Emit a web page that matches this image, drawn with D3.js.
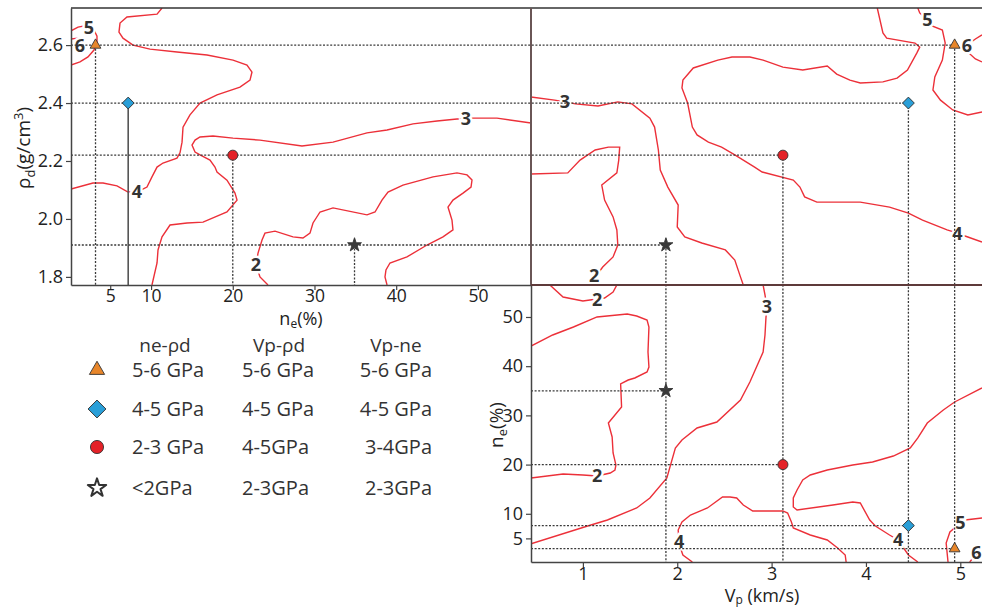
<!DOCTYPE html>
<html>
<head>
<meta charset="utf-8">
<script src="https://cdnjs.cloudflare.com/ajax/libs/d3/7.8.5/d3.min.js"></script>
<style>
  body { margin: 0; background: #fff; }
  svg { display: block; font-family: 'Open Sans', sans-serif; }
</style>
</head>
<body>
<svg id="chart" width="982" height="607"></svg>
<script>
// ---- ticks
const neTicks = [5, 10, 20, 30, 40, 50];
const rhoTicks = [1.8, 2.0, 2.2, 2.4, 2.6];
const vpTicks = [1, 2, 3, 4, 5];

// ---- sample points, one per pressure class (triangle, diamond, circle, star)
const markerKinds = ['triangle', 'diamond', 'circle', 'star'];
const neRhoPoints = [[3.2, 2.6], [7.2, 2.4], [20, 2.22], [34.9, 1.91]];
const vpRhoPoints = [[4.94, 2.6], [4.45, 2.4], [3.12, 2.22], [1.88, 1.91]];
const vpNePoints = [[4.94, 2.9], [4.45, 7.6], [3.12, 20], [1.88, 35]];

// ---- legend
const legendHeads = ['ne-ρd', 'Vp-ρd', 'Vp-ne'];
const legendNeRho = ['5-6 GPa', '4-5 GPa', '2-3 GPa', '<2GPa'];
const legendVpRho = ['5-6 GPa', '4-5 GPa', '4-5GPa', '2-3GPa'];
const legendVpNe = ['5-6 GPa', '4-5 GPa', '3-4GPa', '2-3GPa'];

// ---- contours (GPa) ne(%) vs rho_d
const nrC6 = [[0.2, 2.621], [1.06, 2.624]];
const nrC5 = [[0.2, 2.649], [1.06, 2.662], [2.4, 2.669], [3.01, 2.652], [3.38, 2.631], [3.38, 2.610], [3.01, 2.583], [2.28, 2.559], [1.30, 2.542], [0.2, 2.531]];
const nrC4 = [[11.34, 2.728], [10.73, 2.707], [7.05, 2.697], [6.20, 2.676], [6.07, 2.645], [6.56, 2.624], [7.79, 2.600], [9.87, 2.586], [13.17, 2.576], [16.85, 2.566], [20.03, 2.548], [21.74, 2.531], [22.35, 2.507], [22.11, 2.479], [20.88, 2.455], [18.07, 2.428], [15.99, 2.400], [14.76, 2.359], [13.91, 2.317], [13.79, 2.265], [13.54, 2.228], [13.17, 2.210], [11.46, 2.193], [10.73, 2.179], [10.11, 2.145], [9.50, 2.110], [8.28, 2.093], [7.18, 2.093], [5.83, 2.114], [4.12, 2.124], [2.89, 2.124], [0.2, 2.103]];
const nrC3 = [[10.11, 1.772], [10.73, 1.848], [10.85, 1.893], [11.34, 1.938], [12.32, 1.979], [14.40, 1.986], [16.36, 1.989], [19.29, 2.024], [20.52, 2.065], [20.27, 2.089], [20.03, 2.100], [19.29, 2.134], [18.07, 2.162], [17.82, 2.179], [17.21, 2.203], [15.99, 2.221], [15.38, 2.231], [15.01, 2.255], [15.38, 2.272], [15.99, 2.283], [17.58, 2.286], [20.03, 2.279], [23.33, 2.272], [28.47, 2.252], [32.27, 2.265], [36.43, 2.297], [38.88, 2.307], [42.06, 2.328], [45.0, 2.338], [47.44, 2.345], [48.54, 2.345], [49.40, 2.348], [52.34, 2.348], [56.5, 2.331]];
const nrC2 = [[24.31, 1.772], [23.33, 1.800], [22.84, 1.841], [23.09, 1.882], [23.58, 1.927], [23.94, 1.951], [25.17, 1.958], [27.37, 1.938], [28.59, 1.934], [29.45, 1.951], [29.82, 1.986], [30.68, 2.024], [32.27, 2.038], [36.43, 2.014], [37.41, 2.024], [38.26, 2.065], [39.00, 2.093], [40.83, 2.117], [44.51, 2.145], [47.44, 2.159], [48.67, 2.152], [49.28, 2.134], [49.16, 2.110], [48.18, 2.089], [46.95, 2.065], [46.34, 2.041], [46.83, 1.996], [46.95, 1.962], [45.73, 1.938], [43.77, 1.910], [41.32, 1.869], [39.24, 1.848], [38.75, 1.824], [38.63, 1.800], [38.88, 1.772]];

// ---- contours Vp(km/s) vs rho_d
const vrC2 = [[0.45, 2.155], [0.84, 2.159], [0.97, 2.203], [1.13, 2.238], [1.27, 2.248], [1.39, 2.248], [1.38, 2.203], [1.36, 2.159], [1.20, 2.117], [1.23, 2.065], [1.32, 2.007], [1.36, 1.962], [1.37, 1.910], [1.32, 1.869], [1.21, 1.834], [1.14, 1.803], [1.16, 1.772]];
const vrC3 = [[0.45, 2.421], [0.70, 2.410], [0.81, 2.404], [0.92, 2.397], [1.16, 2.390], [1.37, 2.404], [1.52, 2.397], [1.71, 2.348], [1.76, 2.317], [1.80, 2.238], [1.82, 2.169], [1.90, 2.110], [2.01, 2.048], [2.00, 1.972], [2.08, 1.938], [2.26, 1.917], [2.51, 1.893], [2.61, 1.858], [2.67, 1.800], [2.70, 1.772]];
const vrC4 = [[4.12, 2.728], [4.18, 2.642], [4.22, 2.624], [4.52, 2.607], [4.57, 2.593], [4.54, 2.573], [4.44, 2.514], [4.33, 2.486], [4.18, 2.473], [3.94, 2.469], [3.83, 2.479], [3.69, 2.500], [3.59, 2.528], [3.33, 2.514], [3.12, 2.524], [2.91, 2.548], [2.77, 2.559], [2.58, 2.559], [2.43, 2.548], [2.17, 2.521], [2.06, 2.479], [2.05, 2.452], [2.11, 2.400], [2.16, 2.317], [2.21, 2.290], [2.33, 2.265], [2.47, 2.248], [2.61, 2.221], [2.82, 2.179], [2.90, 2.162], [3.23, 2.134], [3.30, 2.110], [3.35, 2.076], [3.48, 2.058], [3.94, 2.058], [4.25, 2.041], [4.45, 2.020], [4.60, 1.996], [4.86, 1.962], [4.97, 1.951], [5.05, 1.941], [5.23, 1.920]];
const vrC5 = [[4.55, 2.728], [4.57, 2.711], [4.65, 2.687], [4.70, 2.666], [4.81, 2.652], [4.84, 2.607], [4.81, 2.548], [4.73, 2.490], [4.71, 2.445], [4.79, 2.410], [4.92, 2.376], [5.08, 2.359], [5.23, 2.369]];
const vrC6 = [[5.23, 2.635], [5.16, 2.621], [5.07, 2.600], [5.09, 2.573], [5.16, 2.552], [5.23, 2.542]];

// ---- contours Vp(km/s) vs ne(%)
const vnC2a = [[0.65, 56.5], [0.79, 54.06], [1.00, 53.25], [1.15, 53.65], [1.23, 53.86], [1.32, 55.08], [1.36, 56.5]];
const vnC2b = [[0.45, 44.10], [0.68, 46.34], [0.90, 47.96], [1.15, 50.0], [1.47, 50.61], [1.57, 50.20], [1.68, 49.39], [1.70, 47.96], [1.69, 42.88], [1.70, 39.83], [1.68, 38.82], [1.55, 37.60], [1.48, 37.19], [1.40, 36.38], [1.41, 31.70], [1.27, 28.45], [1.31, 25.61], [1.32, 22.35], [1.35, 19.92], [1.34, 18.9], [1.29, 18.29], [1.15, 17.68], [1.00, 17.88], [0.79, 18.09], [0.45, 17.27]];
const vnC3 = [[2.91, 56.5], [2.93, 54.47], [2.95, 52.03], [2.94, 49.79], [2.93, 46.34], [2.91, 42.88], [2.77, 36.79], [2.67, 33.13], [2.42, 28.65], [2.21, 27.44], [2.05, 25.0], [1.98, 23.37], [1.89, 17.27], [1.71, 13.21], [1.57, 11.18], [1.26, 8.74], [1.05, 7.52], [0.45, 3.9]];
const vnC4a = [[2.16, 0.2], [2.06, 1.62], [2.03, 3.25], [2.02, 4.27], [2.01, 6.70], [2.05, 8.33], [2.14, 9.75], [2.32, 11.18], [2.48, 13.41], [2.56, 13.41], [2.63, 13.21], [2.70, 11.79], [2.80, 10.57], [3.12, 10.57], [3.17, 10.16], [3.21, 8.33], [3.23, 7.11], [3.41, 5.69], [3.59, 4.67], [3.70, 3.05], [3.78, 1.62], [3.79, 0.2]];
const vnC4b = [[4.55, 0.2], [4.45, 1.62], [4.34, 4.67], [4.25, 5.69], [4.10, 7.52], [4.04, 8.74], [3.94, 12.19], [3.86, 12.40], [3.65, 11.79], [3.27, 10.77], [3.23, 11.38], [3.23, 13.21], [3.27, 14.83], [3.33, 16.87], [3.41, 17.88], [3.59, 18.9], [3.86, 19.92], [4.07, 20.52], [4.29, 21.74], [4.47, 23.37], [4.55, 25.41], [4.65, 28.45], [4.82, 31.09], [4.94, 32.72], [5.23, 35.57]];
const vnC5 = [[5.23, 9.14], [5.05, 8.74], [5.00, 8.13], [4.89, 6.30], [4.85, 4.06], [4.87, 0.2]];
const vnC6 = [[5.10, 0.2], [5.16, 1.62], [5.20, 2.03]];

// level + label position for each contour
const nrContours = [
    { level: 6, at: [1.30, 2.600], pts: nrC6 },
    { level: 5, at: [2.40, 2.662], pts: nrC5 },
    { level: 4, at: [8.28, 2.093], pts: nrC4 },
    { level: 3, at: [48.54, 2.345], pts: nrC3 },
    { level: 2, at: [22.84, 1.841], pts: nrC2 }
];
const vrContours = [
    { level: 2, at: [1.12, 1.803], pts: vrC2 },
    { level: 3, at: [0.81, 2.404], pts: vrC3 },
    { level: 4, at: [4.97, 1.951], pts: vrC4 },
    { level: 5, at: [4.65, 2.687], pts: vrC5 },
    { level: 6, at: [5.07, 2.600], pts: vrC6 }
];
const vnContours = [
    { level: 2, at: [1.15, 53.65], pts: vnC2a },
    { level: 2, at: [1.15, 17.68], pts: vnC2b },
    { level: 3, at: [2.95, 52.03], pts: vnC3 },
    { level: 4, at: [2.02, 4.27], pts: vnC4a },
    { level: 4, at: [4.34, 4.67], pts: vnC4b },
    { level: 5, at: [5.00, 8.13], pts: vnC5 },
    { level: 6, at: [5.17, 2.03], pts: vnC6 }
];

const svg = d3.select('#chart');
const red = '#ec3039';
const ink = '#333';
const axisColor = '#444';

const xNe = d3.scaleLinear().domain([0.2, 56.5]).range([71, 531]);
const yRho = d3.scaleLinear().domain([1.772, 2.728]).range([285, 8]);
const xVp = d3.scaleLinear().domain([0.45, 5.23]).range([531, 982]);
const yNe = d3.scaleLinear().domain([0.2, 56.5]).range([562, 285]);

const panels = [
    { id: 'nr', x: xNe, y: yRho, contours: nrContours },
    { id: 'vr', x: xVp, y: yRho, contours: vrContours },
    { id: 'vn', x: xVp, y: yNe, contours: vnContours }
];

const defs = svg.append('defs');

// contour lines
panels.forEach(p => {
    const [x0, x1] = p.x.range();
    const [y0, y1] = p.y.range();
    defs.append('clipPath').attr('id', 'clip-' + p.id)
        .append('rect').attr('x', x0).attr('y', y1).attr('width', x1 - x0).attr('height', y0 - y1);
    const line = d3.line().x(d => p.x(d[0])).y(d => p.y(d[1]));
    svg.append('g').attr('clip-path', `url(#clip-${p.id})`)
        .selectAll('path').data(p.contours).join('path')
        .attr('d', d => line(d.pts))
        .attr('fill', 'none').attr('stroke', red).attr('stroke-width', 1.4);
});

// contour labels, white halo breaks the line like clabel
panels.forEach(p => {
    svg.append('g').selectAll('text').data(p.contours).join('text')
        .attr('x', d => p.x(d.at[0])).attr('y', d => p.y(d.at[1]))
        .attr('dy', '0.36em').attr('text-anchor', 'middle')
        .attr('font-size', 18).attr('font-weight', 700).attr('fill', ink)
        .attr('stroke', '#fff').attr('stroke-width', 5).attr('paint-order', 'stroke')
        .text(d => d.level);
});

// guide lines
const guides = svg.append('g').attr('fill', 'none');
const dotted = sel => sel.attr('stroke', '#3a3a3a').attr('stroke-width', 1.3).attr('stroke-dasharray', '2,1.6');

neRhoPoints.forEach((d, i) => {
    const vr = vpRhoPoints[i];
    const vn = vpNePoints[i];
    // horizontal through both rho panels
    guides.append('line').call(dotted)
        .attr('x1', xNe.range()[0]).attr('x2', xVp(vr[0]))
        .attr('y1', yRho(d[1])).attr('y2', yRho(d[1]));
    // vertical down to ne axis
    const v = guides.append('line')
        .attr('x1', xNe(d[0])).attr('x2', xNe(d[0]))
        .attr('y1', yRho(d[1])).attr('y2', yRho.range()[0]);
    if (markerKinds[i] === 'diamond') v.attr('stroke', '#555').attr('stroke-width', 1.6);
    else v.call(dotted);
    // vertical from Vp-rho point down to Vp axis
    guides.append('line').call(dotted)
        .attr('x1', xVp(vr[0])).attr('x2', xVp(vr[0]))
        .attr('y1', yRho(vr[1])).attr('y2', yNe.range()[0]);
    // horizontal in Vp-ne
    guides.append('line').call(dotted)
        .attr('x1', xVp.range()[0]).attr('x2', xVp(vn[0]))
        .attr('y1', yNe(vn[1])).attr('y2', yNe(vn[1]));
});

// markers
const markerStyle = {
    triangle: { type: d3.symbolTriangle, fill: '#e8862a', size: 50, legend: 100 },
    diamond: { type: d3.symbolSquare, fill: '#2a9fd8', size: 70, legend: 160, rot: 45 },
    circle: { type: d3.symbolCircle, fill: '#e42228', size: 80, legend: 135 },
    star: { type: d3.symbolStar, fill: '#3a3a3a', size: 60, legend: 105 }
};

function drawMarker(g, kind, x, y, big) {
    const m = markerStyle[kind];
    const path = d3.symbol(m.type, big ? m.legend : m.size)();
    g.append('path').attr('d', path)
        .attr('transform', `translate(${x},${y})` + (m.rot ? ` rotate(${m.rot})` : ''))
        .attr('fill', big && kind === 'star' ? '#fff' : m.fill)
        .attr('stroke', '#333').attr('stroke-width', big && kind === 'star' ? 2 : 0.9)
        .attr('stroke-linejoin', 'round');
}

const marks = svg.append('g');
markerKinds.forEach((k, i) => {
    drawMarker(marks, k, xNe(neRhoPoints[i][0]), yRho(neRhoPoints[i][1]));
    drawMarker(marks, k, xVp(vpRhoPoints[i][0]), yRho(vpRhoPoints[i][1]));
    drawMarker(marks, k, xVp(vpNePoints[i][0]), yNe(vpNePoints[i][1]));
});

// axes
function styleAxis(g, fs) {
    g.select('.domain').attr('stroke', axisColor).attr('stroke-width', 1.5);
    g.selectAll('.tick line').attr('stroke', axisColor).attr('stroke-width', 1.2);
    g.selectAll('.tick text').attr('font-size', fs).attr('fill', '#222')
        .attr('font-family', "'Open Sans', sans-serif");
}

svg.append('g').attr('transform', `translate(${xNe.range()[0]},0)`)
    .call(d3.axisLeft(yRho).tickValues(rhoTicks).tickFormat(d3.format('.1f')).tickSize(5).tickPadding(3).tickSizeOuter(0))
    .call(g => styleAxis(g, 18));
svg.append('g').attr('transform', `translate(0,${yRho.range()[0]})`)
    .call(d3.axisBottom(xNe).tickValues(neTicks).tickFormat(d3.format('d')).tickSize(5).tickPadding(0).tickSizeOuter(0))
    .call(g => styleAxis(g, 17.5));
svg.append('g').attr('transform', `translate(${xVp.range()[0]},0)`)
    .call(d3.axisLeft(yNe).tickValues(neTicks).tickFormat(d3.format('d')).tickSize(5).tickPadding(3).tickSizeOuter(0))
    .call(g => styleAxis(g, 18));
svg.append('g').attr('transform', `translate(0,${yNe.range()[0]})`)
    .call(d3.axisBottom(xVp).tickValues(vpTicks).tickFormat(d3.format('d')).tickSize(5).tickPadding(0).tickSizeOuter(0))
    .call(g => styleAxis(g, 18));

// frame lines between panels
const frame = svg.append('g');
frame.append('line').attr('x1', xNe.range()[0]).attr('x2', xVp.range()[1])
    .attr('y1', yRho.range()[1]).attr('y2', yRho.range()[1])
    .attr('stroke', '#333').attr('stroke-width', 1.5);
frame.append('line').attr('x1', xVp.range()[0]).attr('x2', xVp.range()[0])
    .attr('y1', yRho.range()[1]).attr('y2', yRho.range()[0])
    .attr('stroke', '#6a5656').attr('stroke-width', 2);
frame.append('line').attr('x1', xVp.range()[0]).attr('x2', xVp.range()[1])
    .attr('y1', yNe.range()[1]).attr('y2', yNe.range()[1])
    .attr('stroke', '#5e3a3a').attr('stroke-width', 2);

// axis titles
const titles = svg.append('g').attr('fill', '#222').attr('font-size', 19);
const rhoT = titles.append('text').attr('transform', 'translate(30,148) rotate(-90)').attr('text-anchor', 'middle');
rhoT.append('tspan').text('ρ');
rhoT.append('tspan').attr('dy', 5).attr('font-size', 13).text('d');
rhoT.append('tspan').attr('dy', -5).text('(g/cm');
rhoT.append('tspan').attr('dy', -7).attr('font-size', 13).text('3');
rhoT.append('tspan').attr('dy', 7).text(')');

const neT = titles.append('text').attr('x', 301).attr('y', 325).attr('font-size', 18).attr('text-anchor', 'middle');
neT.append('tspan').text('n');
neT.append('tspan').attr('dy', 3).attr('font-size', 12).text('e');
neT.append('tspan').attr('dy', -3).text('(%)');

const neT2 = titles.append('text').attr('transform', 'translate(503,425) rotate(-90)').attr('text-anchor', 'middle');
neT2.append('tspan').text('n');
neT2.append('tspan').attr('dy', 4).attr('font-size', 13).text('e');
neT2.append('tspan').attr('dy', -4).text('(%)');

const vpT = titles.append('text').attr('x', 762).attr('y', 602).attr('text-anchor', 'middle').attr('font-size', 18);
vpT.append('tspan').text('V');
vpT.append('tspan').attr('dy', 2).attr('font-size', 12).text('p');
vpT.append('tspan').attr('dy', -2).text(' (km/s)');

// legend
const legend = svg.append('g').attr('font-size', 20).attr('fill', ink);
const colX = [[132, 'start'], [242, 'start'], [432, 'end']];
const headX = [165, 279, 396];
const rowY = [370, 409, 447, 488];
legend.selectAll('text.head').data(legendHeads).join('text').attr('class', 'head')
    .attr('x', (d, i) => headX[i]).attr('y', 352).attr('font-size', 19).attr('text-anchor', 'middle').text(d => d);
[legendNeRho, legendVpRho, legendVpNe].forEach((col, c) => {
    legend.selectAll(`text.c${c}`).data(col).join('text').attr('class', `c${c}`)
        .attr('x', colX[c][0]).attr('y', (d, i) => rowY[i] + 7)
        .attr('text-anchor', colX[c][1]).text(d => d);
});
markerKinds.forEach((k, i) => drawMarker(legend, k, 97, rowY[i], true));
</script>
</body>
</html>
